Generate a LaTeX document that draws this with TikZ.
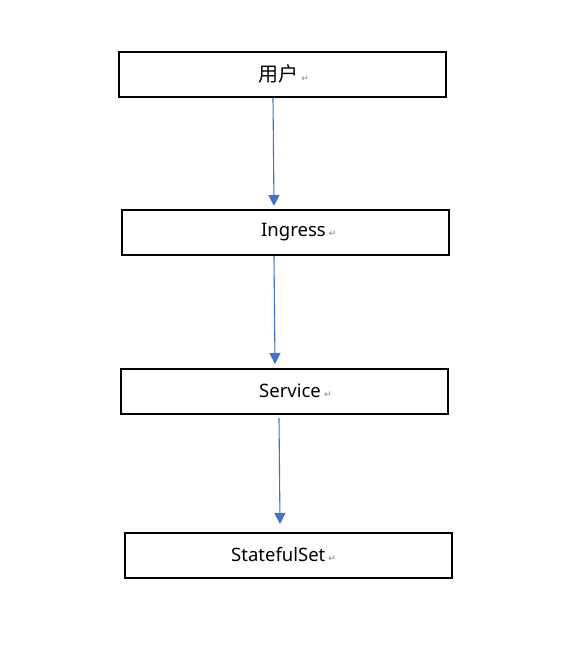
\documentclass[tikz,border=0pt]{standalone}
\usepackage{fontspec}
\setmainfont{Noto Sans}
\newfontfamily\cjk{Noto Sans CJK SC}
\newfontfamily\retfont{DejaVu Sans}
\usetikzlibrary{arrows.meta}
\definecolor{arrowblue}{HTML}{4472C4}
\definecolor{retgray}{HTML}{808080}
\tikzset{
  box/.style={draw=black, line width=2pt, minimum width=327pt, minimum height=45pt, inner sep=0pt, anchor=north west},
  lbl/.style={anchor=west, inner sep=0pt, font=\fontsize{18.5pt}{20pt}\selectfont},
  flow/.style={draw=arrowblue, line width=1.1pt, -{Triangle[length=11pt,width=11pt]}},
}
\newcommand{\retmark}{\,{\retfont\fontsize{9pt}{9pt}\selectfont\color{retgray}↵}}
\begin{document}
\begin{tikzpicture}[x=1pt,y=-1pt]
\useasboundingbox (0,0) rectangle (562,668);
\node[box] (b1) at (118,51) {};
\node[box] (b2) at (121,209) {};
\node[box] (b3) at (120,368) {};
\node[box] (b4) at (124,532) {};
\node[lbl] (t1) at (258,74) {{\cjk\fontsize{20pt}{22pt}\selectfont 用户}\retmark};
\node[lbl] (t2) at (261,232) {Ingress\retmark};
\node[lbl] (t3) at (259,391) {Service\retmark};
\node[lbl] (t4) at (231,555) {StatefulSet\retmark};
\coordinate (s1) at (273,98);
\coordinate (e1) at (274,206);
\coordinate (s2) at (274,256);
\coordinate (e2) at (275,364);
\coordinate (s3) at (279,418);
\coordinate (e3) at (280,524);
\draw[flow] (s1) -- (e1);
\draw[flow] (s2) -- (e2);
\draw[flow] (s3) -- (e3);
\end{tikzpicture}
\end{document}
